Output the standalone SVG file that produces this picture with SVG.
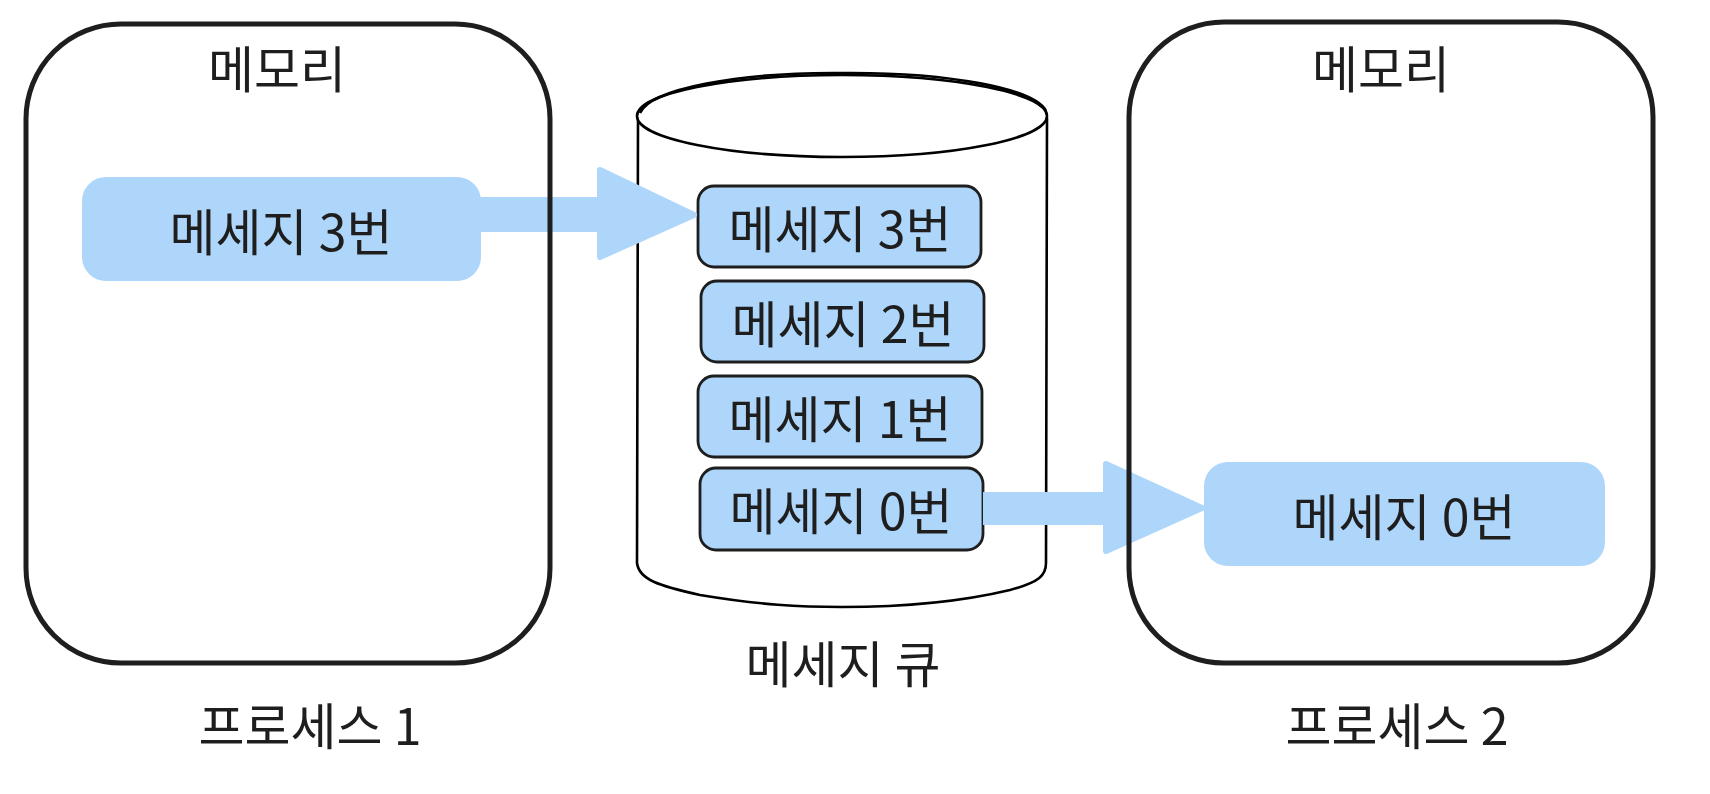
<svg xmlns="http://www.w3.org/2000/svg" width="1710" height="794" viewBox="0 0 1710 794">
  <style>
    .lbl { font-family: "Noto Sans CJK KR", "Noto Sans", sans-serif; font-size: 50px; font-weight: 400; fill: #1e1e1e; text-anchor: middle; dominant-baseline: central; }
    .proc { fill: none; stroke: #1e1e1e; stroke-width: 5; }
    .msg { fill: #aed6fa; }
    .item { fill: #aed6fa; stroke: #1e1e1e; stroke-width: 2.8; }
    .cyl { fill: #ffffff; stroke: #000000; stroke-width: 2.6; stroke-linecap: round; stroke-linejoin: round; }
    .flow { fill: #aed6fa; stroke: #aed6fa; stroke-width: 6; stroke-linejoin: round; }
  </style>

  <!-- message queue cylinder -->
  <g id="queue">
    <path class="cyl" d="M638,118 L637,563 C639,580 660,586 700,595 C760,605 800,607 842,607 C900,607 960,602 1010,590 C1040,582 1046,575 1046,563 L1047,118"/>
    <ellipse class="cyl" cx="842" cy="116" rx="205" ry="41"/>
    <path fill="none" stroke="#000" stroke-width="2.6" d="M640,113 C650,89 740,72 842,73 C950,72 1035,89 1046,111"/>
    <text class="lbl" x="843" y="661">메세지 큐</text>
  </g>

  <g id="queue-item-3">
    <rect class="item" x="698" y="186" width="283" height="81" rx="16"/>
    <text class="lbl" x="840" y="226">메세지 3번</text>
  </g>
  <g id="queue-item-2">
    <rect class="item" x="701" y="281" width="283" height="81" rx="16"/>
    <text class="lbl" x="843" y="321">메세지 2번</text>
  </g>
  <g id="queue-item-1">
    <rect class="item" x="698" y="376" width="284" height="81" rx="16"/>
    <text class="lbl" x="840" y="416">메세지 1번</text>
  </g>
  <g id="queue-item-0">
    <rect class="item" x="700" y="468" width="283" height="82" rx="16"/>
    <text class="lbl" x="841" y="508">메세지 0번</text>
  </g>

  <!-- connectors: thick block arrows -->
  <g id="connectors">
    <g id="send-arrow">
      <rect class="msg" x="470" y="197" width="132" height="35"/>
      <polygon class="flow" points="600,170 694,215 600,257"/>
    </g>
    <g id="receive-arrow">
      <rect class="msg" x="983" y="492" width="124" height="33"/>
      <polygon class="flow" points="1106,464 1202,508 1106,551"/>
    </g>
  </g>

  <!-- process 1 -->
  <g id="process-1">
    <rect class="proc" x="26" y="24" width="524" height="639" rx="95"/>
    <text class="lbl" x="277" y="66">메모리</text>
    <text class="lbl" x="310" y="723">프로세스 1</text>
  </g>
  <g id="process-1-message">
    <rect class="msg" x="82" y="177" width="399" height="104" rx="24"/>
    <text class="lbl" x="281" y="229">메세지 3번</text>
  </g>

  <!-- process 2 -->
  <g id="process-2">
    <rect class="proc" x="1129" y="22" width="524" height="641" rx="95"/>
    <text class="lbl" x="1381" y="66">메모리</text>
    <text class="lbl" x="1397" y="723">프로세스 2</text>
  </g>
  <g id="process-2-message">
    <rect class="msg" x="1204" y="462" width="401" height="104" rx="24"/>
    <text class="lbl" x="1404" y="514">메세지 0번</text>
  </g>
</svg>
